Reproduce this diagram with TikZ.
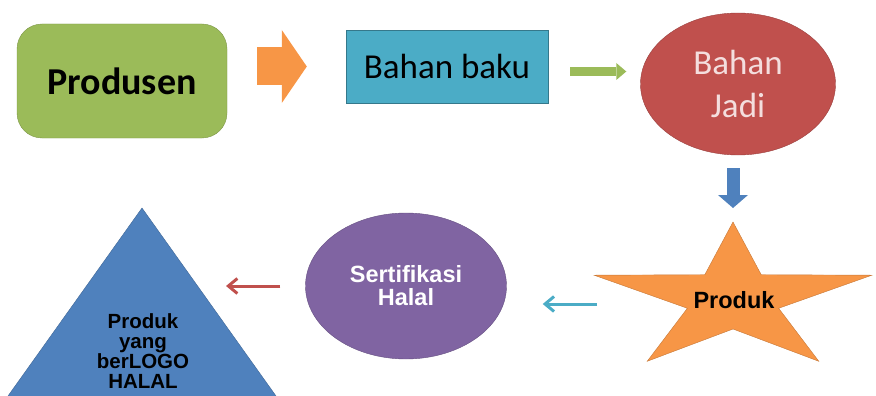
\documentclass[tikz,border=0pt]{standalone}
\usepackage{fontspec}
\setmainfont{Carlito}
\newfontfamily\arialfont{Liberation Sans}
\usetikzlibrary{shapes.geometric, arrows.meta}

\definecolor{ogreen}{HTML}{9BBB59}
\definecolor{oorange}{HTML}{F79646}
\definecolor{ocyan}{HTML}{4BACC6}
\definecolor{ored}{HTML}{C0504D}
\definecolor{oblue}{HTML}{4F81BD}
\definecolor{opurple}{HTML}{8064A2}
\definecolor{opink}{HTML}{F4DEDE}

\begin{document}
\begin{tikzpicture}[x=1pt, y=-1pt,
  blockarrow/.style={line width=#1},
  thinarrow/.style={line width=3pt, -{Straight Barb[length=9pt,width=15pt]}}]

\useasboundingbox (0,0) rectangle (876,396);

% Top row
\node [draw=ogreen!80!black, fill=ogreen, rounded corners=25pt, minimum width=210pt, minimum height=114pt, font=\bfseries\fontsize{38}{40}\selectfont] (produsen) at (122,81) {Produsen};
\node [draw=ocyan!70!black, fill=ocyan, minimum width=202pt, minimum height=73pt, font=\fontsize{35}{40}\selectfont] (baku) at (447,66.5) {Bahan baku};
\node [ellipse, draw=ored!80!black, fill=ored, minimum width=195pt, minimum height=142pt, text=opink, align=center, font=\fontsize{35}{43}\selectfont] (jadi) at (738,84) {Bahan\\Jadi};

% Star
\coordinate (starc) at (733,299);
\coordinate (startop) at (733,222);
\filldraw [fill=oorange, draw=oorange!80!black, shift={(starc)}] (-90:146 and 77)
  \foreach \k in {0,...,4} { -- ({-90+72*\k}:146 and 77) -- ({-54+72*\k}:48 and 30) } -- cycle;
\node [font=\arialfont\bfseries\fontsize{23.5}{24}\selectfont] (produk) at (734,300) {Produk};

% Circle
\node [ellipse, draw=opurple!80!black, fill=opurple, minimum width=201pt, minimum height=146pt, text=white, align=center, font=\arialfont\bfseries\fontsize{23.5}{23}\selectfont] (halal) at (406,286) {Sertifikasi\\Halal};

% Triangle
\coordinate (apex) at (142,208);
\filldraw [fill=oblue, draw=oblue!80!black] (8,396) -- (apex) -- (276,396);
\node [align=center, font=\arialfont\bfseries\fontsize{20.5}{20}\selectfont] (logo) at (143,351) {Produk\\yang\\berLOGO\\HALAL};

% Arrows
\draw [oorange, blockarrow=38pt, -{Triangle[length=25pt,width=73pt,line width=0pt]}, shorten <=30pt, shorten >=39pt] (produsen.east |- baku.west) -- (baku.west);
\draw [ogreen, blockarrow=9pt, -{Triangle[length=10pt,width=17pt,line width=0pt]}, shorten <=22pt, shorten >=14pt] ([yshift=-5pt]baku.east) -- ([yshift=-5pt]baku.east -| jadi.west);
\draw [oblue, blockarrow=13pt, -{Triangle[length=13pt,width=30pt,line width=0pt]}, shorten <=13pt, shorten >=14pt] (jadi.south -| startop) -- (startop);
\draw [ocyan, thinarrow, shorten <=136pt, shorten >=36pt] ([yshift=-5pt]starc) -- ([yshift=-18pt]halal.east);
\draw [ored, thinarrow, shorten <=25pt, shorten >=84pt] (halal.west) -- (apex |- halal.west);

\end{tikzpicture}
\end{document}
